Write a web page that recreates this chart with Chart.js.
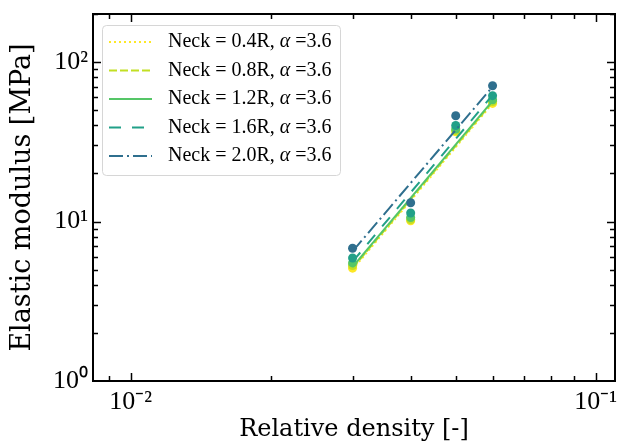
<!DOCTYPE html>
<html>
<head>
<meta charset="utf-8">
<script src="https://cdn.jsdelivr.net/npm/chart.js@4.4.1/dist/chart.umd.min.js"></script>
<style>
  html, body { margin: 0; padding: 0; background: #fff; }
</style>
</head>
<body>
<canvas id="chart" width="622" height="442"></canvas>
<script>
// relative density of the samples
const density = [0.03, 0.04, 0.05, 0.06];

// measured elastic modulus [MPa], one list per neck size
const necks = ['0.4R', '0.8R', '1.2R', '1.6R', '2.0R'];
const alphaValue = '3.6';
const modulus04 = [5.1, 10.1, 36.5, 55.0];
const modulus08 = [5.3, 10.3, 37.2, 56.5];
const modulus12 = [5.5, 10.6, 38.0, 58.0];
const modulus16 = [5.9, 11.3, 40.0, 61.5];
const modulus20 = [6.8, 13.1, 46.0, 71.0];

// power-law fit lines, read at both ends
const fitDensity = [0.03, 0.06];
const fit04 = [5.0, 55.0];
const fit08 = [5.1, 56.0];
const fit12 = [5.2, 57.0];
const fit16 = [5.6, 62.0];
const fit20 = [6.5, 70.0];

const xTicks = [0.01, 0.1];
const yTicks = [1, 10, 100];
const tickText = { 0.01: '10⁻²', 0.1: '10⁻¹', 1: '10⁰', 10: '10¹', 100: '10²' };

const colors = ['#fde725', '#c2df23', '#55c667', '#21a088', '#2f6f8e'];
const dashes = [[2, 3], [8, 3], [], [12, 11], [14, 4, 2, 4]];
const measured = [modulus04, modulus08, modulus12, modulus16, modulus20];
const fits = [fit04, fit08, fit12, fit16, fit20];

const FONT = "'Liberation Serif', serif";
const TITLE_FONT = "'DejaVu Serif', serif";

const datasets = [];
necks.forEach((neck, i) => {
    datasets.push({
        label: `Neck = ${neck}, α =${alphaValue}`,
        isFit: true,
        type: 'line',
        data: fitDensity.map((x, k) => ({ x: x, y: fits[i][k] })),
        borderColor: colors[i],
        borderWidth: 2,
        borderDash: dashes[i],
        pointRadius: 0,
        fill: false,
        order: 20 - 2 * i
    });
    datasets.push({
        label: '',
        type: 'scatter',
        data: density.map((x, k) => ({ x: x, y: measured[i][k] })),
        backgroundColor: colors[i],
        borderWidth: 0,
        pointRadius: 4.5,
        order: 21 - 2 * i
    });
});

// inward major/minor ticks on all four sides plus the black frame
const framePlugin = {
    id: 'frame',
    afterDatasetsDraw(chart) {
        const { ctx, chartArea: a, scales } = chart;
        ctx.save();
        ctx.strokeStyle = '#000';
        ctx.lineWidth = 1.5;
        const xs = scales.x, ys = scales.y;
        const tick = (v, len, axis) => {
            if (axis === 'x') {
                const p = Math.round(xs.getPixelForValue(v)) + 0.5;
                if (p < a.left || p > a.right) return;
                ctx.beginPath();
                ctx.moveTo(p, a.bottom); ctx.lineTo(p, a.bottom - len);
                ctx.moveTo(p, a.top); ctx.lineTo(p, a.top + len);
                ctx.stroke();
            } else {
                const p = Math.round(ys.getPixelForValue(v)) + 0.5;
                if (p < a.top || p > a.bottom) return;
                ctx.beginPath();
                ctx.moveTo(a.left, p); ctx.lineTo(a.left + len, p);
                ctx.moveTo(a.right, p); ctx.lineTo(a.right - len, p);
                ctx.stroke();
            }
        };
        [0.001, 0.01, 0.1].forEach(d => {
            for (let m = 1; m < 10; m++) tick(d * m, m === 1 ? 8 : 5, 'x');
        });
        [1, 10, 100].forEach(d => {
            for (let m = 1; m < 10; m++) tick(d * m, m === 1 ? 8 : 5, 'y');
        });
        ctx.lineWidth = 2;
        ctx.strokeRect(a.left, a.top, a.right - a.left, a.bottom - a.top);
        ctx.restore();
    }
};

// legend box in the upper-left corner of the plot
const legendPlugin = {
    id: 'innerLegend',
    afterDraw(chart) {
        const { ctx } = chart;
        const items = chart.data.datasets.filter(d => d.isFit);
        const bx = 102.5, by = 25.5, bw = 238, bh = 150;
        ctx.save();
        ctx.beginPath();
        ctx.roundRect(bx, by, bw, bh, 4);
        ctx.fillStyle = 'rgba(255,255,255,0.8)';
        ctx.fill();
        ctx.strokeStyle = '#d6d6d6';
        ctx.lineWidth = 1;
        ctx.stroke();
        items.forEach((d, i) => {
            const cy = 42 + 28.5 * i;
            ctx.beginPath();
            ctx.setLineDash(d.borderDash);
            ctx.strokeStyle = d.borderColor;
            ctx.lineWidth = 2;
            ctx.moveTo(109, cy); ctx.lineTo(152, cy);
            ctx.stroke();
            ctx.setLineDash([]);
            ctx.fillStyle = '#000';
            ctx.textBaseline = 'middle';
            const parts = d.label.split('α');
            let x = 168;
            ctx.font = `20px ${FONT}`;
            ctx.fillText(parts[0], x, cy);
            x += ctx.measureText(parts[0]).width;
            ctx.font = `italic 20px ${FONT}`;
            ctx.fillText('α', x, cy);
            x += ctx.measureText('α').width;
            ctx.font = `20px ${FONT}`;
            ctx.fillText(parts[1], x, cy);
        });
        ctx.restore();
    }
};

new Chart(document.getElementById('chart'), {
    type: 'scatter',
    data: { datasets: datasets },
    options: {
        responsive: false,
        devicePixelRatio: 1,
        animation: false,
        layout: { padding: { top: 14, right: 7, left: 0, bottom: 0 } },
        plugins: { legend: { display: false }, tooltip: { enabled: false } },
        scales: {
            x: {
                type: 'logarithmic',
                min: 0.0083,
                max: 0.11,
                afterBuildTicks: s => { s.ticks = xTicks.map(v => ({ value: v })); },
                afterFit: s => { s.height = 61; s.paddingLeft = 0; s.paddingRight = 0; },
                grid: { display: false, drawTicks: false },
                border: { display: false },
                ticks: {
                    autoSkip: false,
                    maxRotation: 0,
                    padding: 6,
                    color: '#000',
                    font: { family: FONT, size: 26 },
                    callback: v => tickText[v] || ''
                },
                title: {
                    display: true,
                    text: 'Relative density [-]',
                    color: '#000',
                    font: { family: TITLE_FONT, size: 24, lineHeight: 1 },
                    padding: { top: 0, bottom: 0 }
                }
            },
            y: {
                type: 'logarithmic',
                min: 1,
                max: 200,
                afterBuildTicks: s => { s.ticks = yTicks.map(v => ({ value: v })); },
                afterFit: s => { s.width = 93; s.paddingTop = 0; s.paddingBottom = 0; },
                grid: { display: false, drawTicks: false },
                border: { display: false },
                ticks: {
                    autoSkip: false,
                    padding: 5,
                    color: '#000',
                    font: { family: FONT, size: 26 },
                    callback: v => tickText[v] || ''
                },
                title: {
                    display: true,
                    text: 'Elastic modulus [MPa]',
                    color: '#000',
                    font: { family: TITLE_FONT, size: 27, lineHeight: 1 },
                    padding: { top: 9, bottom: 0 }
                }
            }
        }
    },
    plugins: [framePlugin, legendPlugin]
});
</script>
</body>
</html>
